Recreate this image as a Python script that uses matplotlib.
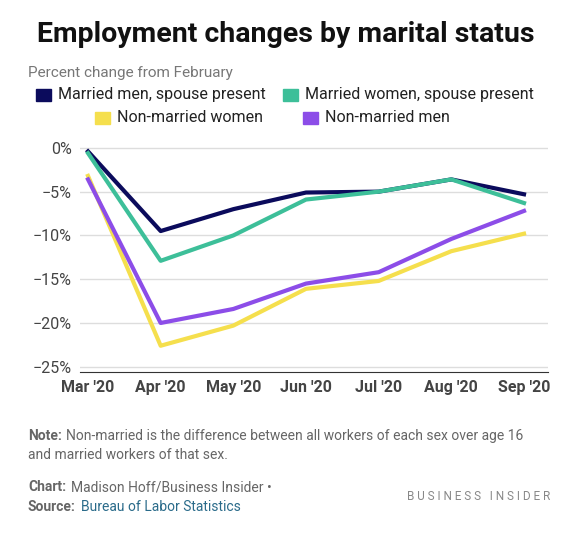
import matplotlib.pyplot as plt
plt.rcParams['font.family'] = ['Roboto', 'DejaVu Sans']

months = ["Mar '20", "Apr '20", "May '20", "Jun '20", "Jul '20", "Aug '20", "Sep '20"]
married_men = [-0.4, -9.5, -7.0, -5.1, -5.0, -3.6, -5.3]
married_women = [-0.6, -12.9, -10.0, -5.9, -5.0, -3.6, -6.3]
nonmarried_women = [-3.2, -22.6, -20.3, -16.1, -15.2, -11.8, -9.8]
nonmarried_men = [-3.6, -20.0, -18.4, -15.5, -14.2, -10.4, -7.2]
yticks = [0, -5, -10, -15, -20, -25]

W, H = 571, 539
fig = plt.figure(figsize=(W/100, H/100), dpi=100)
ax = fig.add_axes([80/W, 1-372/H, (548-80)/W, (372-140)/H])
x = range(len(months))
ax.plot(x, married_men, color='#0b0b5c', lw=3)
ax.plot(x, married_women, color='#3dbf99', lw=3)
ax.plot(x, nonmarried_women, color='#f5df4d', lw=3)
ax.plot(x, nonmarried_men, color='#8c4de8', lw=3)
ax.set_ylim(-25.6, 0.9)
ax.set_xlim(-0.11, 6.33)
ax.set_yticks(yticks)
ax.set_yticklabels([f"{v}%".replace('-', '−') for v in yticks], fontsize=11.5, color='#444444')
ax.set_xticks(list(x))
ax.set_xticklabels(months, fontsize=11.5, color='#444444', fontweight='bold')
ax.grid(axis='y', color='#dddddd', lw=1)
for s in ax.spines.values():
    s.set_visible(False)
ax.spines['bottom'].set_visible(True)
ax.spines['bottom'].set_color('#333333')
ax.tick_params(length=0, pad=6)

fig.text(0.5, 1-35/H, "Employment changes by marital status", ha='center', va='center',
         fontsize=20.5, fontweight='bold', color='#111111')
fig.text(28/W, 1-73/H, "Percent change from February", fontsize=11, color='#777777', va='center')
def leg(xp, yp, c, t):
    fig.patches.append(plt.Rectangle((xp/W, 1-(yp+6)/H), 15/W, 12/H, color=c, transform=fig.transFigure))
    fig.text((xp+22)/W, 1-yp/H, t, fontsize=11.5, va='center', color='#222222')
leg(36, 95, '#0b0b5c', "Married men, spouse present")
leg(283, 95, '#3dbf99', "Married women, spouse present")
leg(95, 118, '#f5df4d', "Non-married women")
leg(303, 118, '#8c4de8', "Non-married men")

g = '#666666'
fs = 10
fig.text(28/W, 1-436/H, "Note:", fontsize=fs, color=g, va='center', fontweight='bold')
fig.text(66/W, 1-436/H, "Non-married is the difference between all workers of each sex over age 16",
         fontsize=fs, color=g, va='center')
fig.text(28/W, 1-455/H, "and married workers of that sex.", fontsize=fs, color=g, va='center')
fig.text(28/W, 1-487/H, "Chart:", fontsize=fs, color=g, va='center', fontweight='bold')
fig.text(71/W, 1-487/H, "Madison Hoff/Business Insider •", fontsize=fs, color=g, va='center')
fig.text(28/W, 1-507/H, "Source:", fontsize=fs, color=g, va='center', fontweight='bold')
fig.text(81/W, 1-507/H, "Bureau of Labor Statistics", fontsize=fs, color='#2a6b8a', va='center')
fig.text(550/W, 1-497/H, "B U S I N E S S   I N S I D E R", fontsize=8.5, color='#888888', ha='right', va='center')
fig.savefig('out.png', dpi=100)
